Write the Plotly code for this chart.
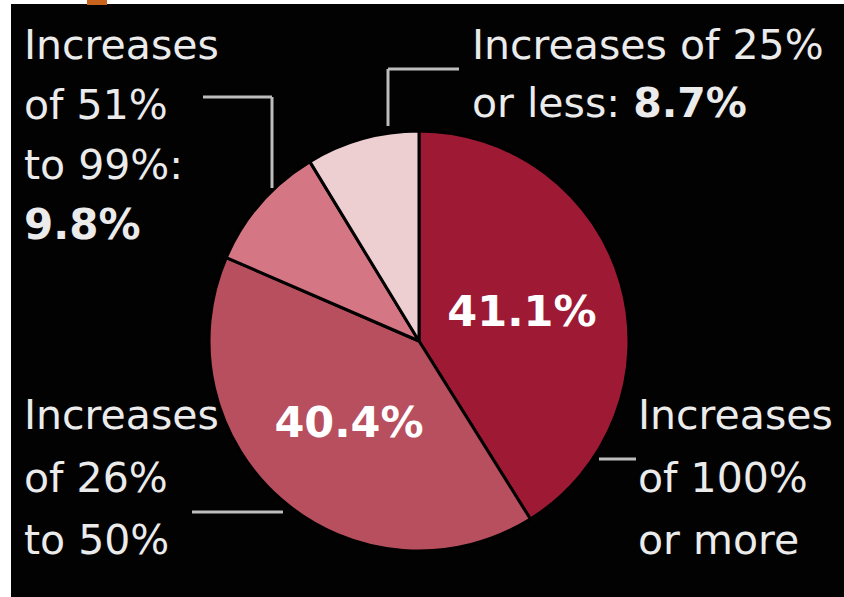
import plotly.graph_objects as go

W, H = 844, 597

# Data
categories = ["Increases of 100% or more", "Increases of 26% to 50%",
              "Increases of 51% to 99%", "Increases of 25% or less"]
shares = [41.1, 40.4, 9.8, 8.7]
slice_colors = ["#9E1A34", "#B84F5E", "#D47684", "#EDCFD2"]
inside_text = [f"{shares[0]}%", f"{shares[1]}%", "", ""]

def px(x, y):
    return x / W, 1 - y / H

FONT = "DejaVu Sans"
TXT = "#EBEBEB"
LINE = "#BDBDBD"

# pie box (pixels)
cx, cy, r = 419, 341, 210
x0, y0 = px(cx - r, cy - r)
x1, y1 = px(cx + r, cy + r)

fig = go.Figure(go.Pie(
    labels=categories, values=shares, sort=False, direction="clockwise",
    rotation=0, marker=dict(colors=slice_colors, line=dict(color="black", width=3)),
    text=inside_text, textinfo="text", textposition="inside",
    insidetextorientation="horizontal",
    textfont=dict(family=FONT, size=43, color="white", weight="bold"),
    domain=dict(x=[x0, x1], y=[y1, y0]), showlegend=False, hoverinfo="label+value",
))

shapes = []
# black panel
bx0, by0 = px(11, 4)
shapes.append(dict(type="rect", xref="paper", yref="paper", x0=bx0, x1=1, y0=0, y1=by0,
                   fillcolor="#020202", line=dict(width=0), layer="below"))
# orange mark
ox0, oy0 = px(87, 0)
ox1, oy1 = px(107, 5)
shapes.append(dict(type="rect", xref="paper", yref="paper", x0=ox0, x1=ox1, y0=oy1, y1=oy0,
                   fillcolor="#C8641E", line=dict(width=0), layer="below"))

def seg(xa, ya, xb, yb):
    a = px(xa, ya); b = px(xb, yb)
    shapes.append(dict(type="line", xref="paper", yref="paper", x0=a[0], y0=a[1],
                       x1=b[0], y1=b[1], line=dict(color=LINE, width=3)))

# leader lines
seg(203, 97, 272, 97); seg(272, 97, 272, 188)
seg(388, 69, 459, 69); seg(388, 69, 388, 126)
seg(192, 512, 283, 512)
seg(599, 459, 636, 459)

annotations = []
def label(text, x, y, size=41):
    ax, ay = px(x, y)
    annotations.append(dict(text=text, x=ax, y=ay, xref="paper", yref="paper",
                            xanchor="left", yanchor="middle", showarrow=False,
                            font=dict(family=FONT, size=size, color=TXT)))

label("Increases", 22, 45)
label("of 51%", 22, 105)
label("to 99%:", 22, 165)
label(f"<b>{shares[2]}%</b>", 22, 225, 42)
label("Increases of 25%", 470, 45)
label(f"or less: <b>{shares[3]}%</b>", 470, 103)
label("Increases", 22, 415)
label("of 26%", 22, 478)
label("to 50%", 22, 540)
label("Increases", 636, 415)
label("of 100%", 636, 478)
label("or more", 636, 540)

fig.update_layout(
    width=W, height=H, margin=dict(l=0, r=0, t=0, b=0),
    paper_bgcolor="white", plot_bgcolor="white",
    shapes=shapes, annotations=annotations,
)

fig.write_html("out.html")
